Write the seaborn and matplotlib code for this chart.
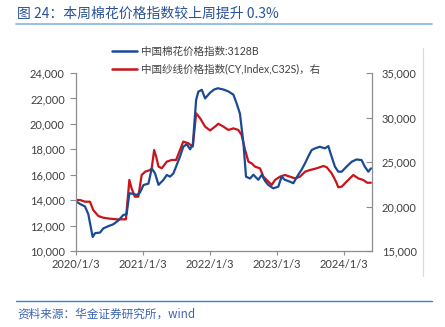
import matplotlib
matplotlib.use("Agg")
import matplotlib.pyplot as plt
import matplotlib.dates as mdates
from matplotlib.lines import Line2D
from matplotlib.ticker import FuncFormatter, FixedLocator
import seaborn as sns
import pandas as pd

# ---------------- data ----------------
cotton_dates = [
    "2020-01-03", "2020-01-25", "2020-02-21", "2020-03-10", "2020-04-03", "2020-04-16",
    "2020-05-13", "2020-05-31", "2020-06-27", "2020-07-24", "2020-08-21", "2020-09-17",
    "2020-10-05", "2020-10-20", "2020-11-10", "2020-11-29", "2020-12-17", "2021-01-05",
    "2021-02-01", "2021-02-19", "2021-03-09", "2021-03-28", "2021-04-24", "2021-05-12",
    "2021-05-30", "2021-06-17", "2021-07-06", "2021-07-23", "2021-08-10", "2021-08-29",
    "2021-09-16", "2021-10-01", "2021-10-19", "2021-10-31", "2021-11-19", "2021-12-07",
    "2022-01-03", "2022-01-25", "2022-02-15", "2022-03-17", "2022-04-13", "2022-05-10",
    "2022-05-28", "2022-06-15", "2022-07-04", "2022-07-18", "2022-08-09", "2022-08-27",
    "2022-09-23", "2022-10-12", "2022-10-30", "2022-11-17", "2022-12-14", "2023-01-10",
    "2023-01-28", "2023-02-15", "2023-03-15", "2023-04-02", "2023-04-29", "2023-05-17",
    "2023-06-05", "2023-06-22", "2023-07-11", "2023-07-29", "2023-08-25", "2023-09-21",
    "2023-10-10", "2023-10-22", "2023-11-15", "2023-12-03", "2023-12-22", "2024-01-17",
    "2024-02-14", "2024-03-12", "2024-04-08", "2024-04-26", "2024-05-15", "2024-05-29",
]
cotton_values = [
    13900, 13700, 13500, 12900, 11100, 11400,
    11450, 11780, 11950, 12100, 12400, 12830,
    12900, 14540, 14500, 14400, 14600, 15190,
    15300, 16500, 16100, 15200, 15600, 15980,
    15850, 16100, 16800, 17420, 18200, 18400,
    18000, 18400, 21880, 22530, 22680, 22000,
    22450, 22700, 22800, 22700, 22550, 22300,
    21600, 20800, 18470, 15850, 15700, 16000,
    15600, 16000, 15500, 15190, 14930, 15060,
    15840, 15600, 15450, 15330, 16000, 16390,
    16900, 17420, 17940, 18070, 18200, 18070,
    18250, 17680, 16630, 16240, 16240, 16630,
    17020, 17200, 17150, 16630, 16240, 16500,
]

yarn_dates = [
    "2020-01-03", "2020-01-25", "2020-02-21", "2020-03-19", "2020-04-06", "2020-05-04",
    "2020-05-31", "2020-07-06", "2020-08-12", "2020-10-01", "2020-10-20", "2020-11-01",
    "2020-11-19", "2020-12-08", "2020-12-26", "2021-01-14", "2021-02-10", "2021-02-19",
    "2021-03-04", "2021-03-15", "2021-03-28", "2021-04-15", "2021-05-12", "2021-06-08",
    "2021-07-02", "2021-07-23", "2021-08-10", "2021-09-07", "2021-10-01", "2021-10-19",
    "2021-11-10", "2021-12-07", "2022-01-03", "2022-01-30", "2022-02-17", "2022-03-17",
    "2022-04-13", "2022-05-10", "2022-06-06", "2022-06-24", "2022-07-13", "2022-07-31",
    "2022-08-18", "2022-09-05", "2022-10-02", "2022-10-21", "2022-11-17", "2022-12-05",
    "2022-12-23", "2023-01-19", "2023-02-15", "2023-03-15", "2023-04-11", "2023-05-08",
    "2023-06-05", "2023-07-02", "2023-08-07", "2023-09-13", "2023-10-01", "2023-10-28",
    "2023-11-21", "2023-12-03", "2023-12-22", "2024-01-17", "2024-02-23", "2024-03-21",
    "2024-04-17", "2024-05-09", "2024-05-29",
]
yarn_values = [
    20730, 20730, 20540, 20540, 19600, 18930,
    18740, 18630, 18560, 18560, 22980, 22040,
    21100, 21100, 23540, 23910, 24100, 24300,
    26350, 25600, 24480, 24300, 25040, 25230,
    25230, 26350, 27290, 27100, 26730, 30470,
    29910, 28970, 28550, 28970, 29300, 28970,
    28600, 28780, 28600, 28030, 26350, 25040,
    24850, 24480, 24290, 23350, 22790, 22420,
    22980, 23350, 23540, 23350, 23160, 23350,
    23910, 24100, 24290, 24550, 24410, 23730,
    22790, 22160, 22230, 22790, 23540, 23160,
    22980, 22670, 22670,
]

x_tick_dates = ["2020-01-03", "2021-01-03", "2022-01-03", "2023-01-03", "2024-01-03"]
x_tick_labels = ["2020/1/3", "2021/1/3", "2022/1/3", "2023/1/3", "2024/1/3"]
left_ticks = [10000, 12000, 14000, 16000, 18000, 20000, 22000, 24000]
right_ticks = [15000, 20000, 25000, 30000, 35000]

title_text = "图 24：本周棉花价格指数较上周提升 0.3%"
source_text = "资料来源：华金证券研究所，wind"
label_cotton = "中国棉花价格指数:3128B"
label_yarn = "中国纱线价格指数(CY,Index,C32S)，右"

# ---------------- style ----------------
sns.set_theme(style="white")
plt.rcParams["font.family"] = ["Lato", "Noto Sans CJK SC", "DejaVu Sans"]

BLUE = "#1A4A94"
RED = "#C8141B"
SPINE = "#8C8C8C"
TXT = "#404040"

df_c = pd.DataFrame({"date": pd.to_datetime(cotton_dates), "value": cotton_values})
df_y = pd.DataFrame({"date": pd.to_datetime(yarn_dates), "value": yarn_values})

W, H = 445, 327
fig = plt.figure(figsize=(W / 100, H / 100), dpi=100)
ax = fig.add_axes([76 / W, 1 - 251 / H, (372 - 76) / W, (251 - 73) / H])
ax2 = ax.twinx()

sns.lineplot(data=df_y, x="date", y="value", ax=ax2, color=RED, linewidth=1.6)
sns.lineplot(data=df_c, x="date", y="value", ax=ax, color=BLUE, linewidth=1.6)
ax.set_zorder(ax2.get_zorder() + 1)
ax.patch.set_visible(False)

ax.set_xlim(pd.Timestamp("2020-01-03"), pd.Timestamp("2024-06-04"))
ax.set_ylim(10000, 24000)
ax2.set_ylim(15000, 35000)

ax.xaxis.set_major_locator(FixedLocator(mdates.date2num(pd.to_datetime(x_tick_dates))))
ax.set_xticklabels(x_tick_labels)
ax.set_yticks(left_ticks)
ax2.set_yticks(right_ticks)
fmt = FuncFormatter(lambda v, p: f"{int(v):,}")
ax.yaxis.set_major_formatter(fmt)
ax2.yaxis.set_major_formatter(fmt)

ax.set_xlabel("")
ax.set_ylabel("")
ax2.set_ylabel("")
ax.grid(False)
ax2.grid(False)

for a in (ax, ax2):
    for s in a.spines.values():
        s.set_visible(False)
ax.spines["left"].set_visible(True)
ax.spines["bottom"].set_visible(True)
ax2.spines["right"].set_visible(True)
for s in (ax.spines["left"], ax.spines["bottom"], ax2.spines["right"]):
    s.set_color(SPINE)
    s.set_linewidth(0.9)

ax.tick_params(axis="y", which="major", direction="out", length=4, width=0.8,
               color=SPINE, labelsize=8, labelcolor=TXT, pad=4, left=True)
ax.tick_params(axis="x", which="major", direction="out", length=3, width=0.8,
               color=SPINE, labelsize=8, labelcolor=TXT, pad=3, bottom=True)
ax2.tick_params(axis="y", which="major", direction="in", length=4, width=0.8,
                color=SPINE, labelsize=8, labelcolor=TXT, pad=7, right=True)

# legend
handles = [Line2D([], [], color=BLUE, linewidth=1.8),
           Line2D([], [], color=RED, linewidth=1.8)]
leg = fig.legend(handles, [label_cotton, label_yarn], loc="upper left",
                 bbox_to_anchor=(112 / W, 1 - 46 / H), frameon=False,
                 fontsize=7.6, handlelength=2.4, handletextpad=0.3,
                 labelspacing=0.62, borderaxespad=0, borderpad=0)
for t in leg.get_texts():
    t.set_color(TXT)

# title, lines, source
fig.text(17 / W, 1 - 14 / H, title_text, fontsize=10, color="#2A5298",
         family=["Noto Sans CJK SC", "DejaVu Sans"], va="center", ha="left")
fig.add_artist(Line2D([16 / W, 432 / W], [1 - 24 / H, 1 - 24 / H],
                      color="#86B6E2", linewidth=1.2))
fig.add_artist(Line2D([422.5 / W, 422.5 / W], [1 - 48 / H, 1 - 276 / H],
                      color="#D9D9D9", linewidth=0.8))
fig.add_artist(Line2D([16 / W, 432 / W], [1 - 301 / H, 1 - 301 / H],
                      color="#2F86CF", linewidth=1.0))
fig.text(17 / W, 1 - 314 / H, source_text, fontsize=8.4, color="#3C64B4",
         family=["Noto Sans CJK SC", "DejaVu Sans"], style="italic",
         va="center", ha="left")

fig.savefig("out.png", dpi=100)
